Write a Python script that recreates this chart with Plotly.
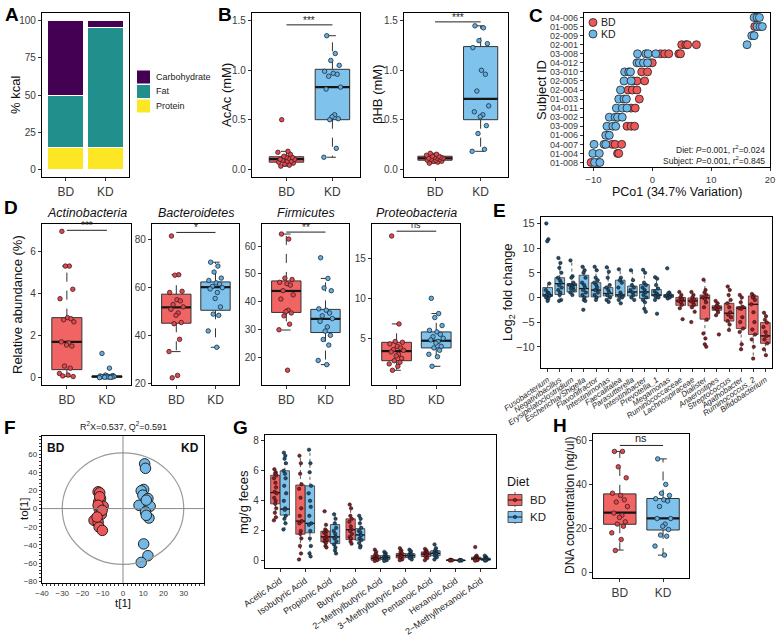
import plotly.graph_objects as go

W, H = 780, 639
FONT = "Liberation Sans, Arial, Helvetica, sans-serif"
TICKC = "#3a3a3a"
EDGE = "#333333"
BD_FILL = "#F06464"
KD_FILL = "#7FC2EC"
BD_PT = "#E5474F"
KD_PT = "#62AEE0"
BD_DARK = "#8B1E24"
KD_DARK = "#1F4E70"
PT_LINE = "#3a2020"

# ---------------- Panel A ----------------
A_DIETS = ["BD", "KD"]
A_PROTEIN = [15, 15]
A_FAT = [35, 80]
A_CARB = [50, 5]
A_NAMES = ["Carbohydrate", "Fat", "Protein"]
A_COLORS = ["#440154", "#21908C", "#FDE725"]

# ---------------- Panel B ----------------
B_ACAC_BD = [0.03, 0.04, 0.05, 0.06, 0.07, 0.08, 0.08, 0.09, 0.10, 0.10, 0.11, 0.12, 0.12, 0.13, 0.15, 0.17, 0.18, 0.50]
B_ACAC_KD = [1.35, 1.17, 1.10, 1.05, 0.99, 0.97, 0.96, 0.94, 0.83, 0.81, 0.55, 0.53, 0.51, 0.50, 0.21, 0.12]
B_ACAC_BD_STATS = [0.07, 0.10, 0.125, 0.03, 0.18]   # q1, median, q3, lower whisker, upper whisker
B_ACAC_KD_STATS = [0.50, 0.83, 1.01, 0.12, 1.35]
B_BHB_BD = [0.06, 0.07, 0.08, 0.08, 0.09, 0.09, 0.10, 0.10, 0.11, 0.11, 0.11, 0.12, 0.12, 0.13, 0.13, 0.14, 0.15, 0.16]
B_BHB_KD = [1.45, 1.43, 1.30, 1.27, 1.23, 1.00, 0.96, 0.79, 0.64, 0.58, 0.55, 0.53, 0.44, 0.36, 0.20, 0.18]
B_BHB_BD_STATS = [0.09, 0.11, 0.13, 0.06, 0.16]
B_BHB_KD_STATS = [0.50, 0.71, 1.24, 0.18, 1.45]
B_SIG = [1.46, 1.49]

# ---------------- Panel C ----------------
C_SUBJECTS = ["04-006", "01-005", "02-009", "02-001", "03-008", "04-012", "03-010", "02-005",
              "02-004", "01-003", "04-011", "03-002", "03-009", "01-006", "04-007", "01-004", "01-008"]
C_BD_SUBJ = ["04-006", "01-005", "02-009", "02-001", "02-001", "02-001", "02-001",
             "03-008", "03-008", "03-008", "03-008", "03-008", "04-012", "04-012", "03-010", "03-010",
             "02-005", "02-005", "02-005", "02-004", "02-004", "02-004", "01-003", "04-011", "04-011",
             "03-002", "03-009", "03-009", "03-009", "01-006", "04-007", "04-007", "04-007",
             "01-004", "01-004", "01-008", "01-008"]
C_BD_PCO1 = [17.6, 17.4, 17.1, 5.0, 5.7, 6.0, 7.5,
             1.4, 2.1, 2.8, 4.5, 4.8, -0.4, 0.0, -1.8, -0.8,
             -3.2, -2.6, -1.3, -4.1, -3.4, -2.6, -2.2, -3.6, -2.9,
             -5.8, -4.3, -3.6, -3.0, -7.5, -6.8, -6.3, -5.2,
             -5.9, -5.7, -10.4, -9.3]
C_KD_SUBJ = ["04-006", "04-006", "04-006", "01-005", "01-005", "01-005", "02-009", "02-009", "02-001",
             "03-008", "03-008", "03-008", "03-008", "04-012", "04-012", "04-012", "04-012",
             "03-010", "03-010", "03-010", "02-005", "02-005", "02-004", "01-003", "01-003", "01-003",
             "04-011", "04-011", "04-011", "03-002", "03-002", "03-002", "03-002", "03-009", "03-009", "03-009",
             "01-006", "01-006", "04-007", "04-007", "04-007", "01-004", "01-004", "01-008", "01-008"]
C_KD_PCO1 = [17.3, 17.8, 18.2, 17.8, 18.3, 18.7, 16.9, 17.3, 16.1,
             -2.5, -1.1, -0.7, 0.6, -2.6, -2.2, -1.5, -0.8,
             -4.7, -4.0, -3.7, -4.8, -3.6, -5.4, -5.7, -4.8, -4.4,
             -6.1, -5.1, -4.3, -7.3, -6.3, -5.9, -5.1, -7.7, -6.7, -6.2,
             -7.9, -7.3, -9.9, -8.2, -7.9, -10.1, -9.0, -9.8, -8.9]

# ---------------- Panel D ----------------
D_PHYLA = ["Actinobacteria", "Bacteroidetes", "Firmicutes", "Proteobacteria"]
D_BD = [
    [6.95, 5.3, 5.3, 4.2, 3.75, 2.85, 2.8, 2.75, 2.65, 1.7, 1.65, 1.55, 1.5, 0.55, 0.45, 0.2, 0.12, 0.08, 0.05],
    [81.5, 65.4, 65.2, 58.5, 58.0, 55.0, 54.5, 53.0, 52.0, 51.0, 49.5, 48.5, 45.5, 45.0, 38.5, 33.4, 23.5, 22.5],
    [64.3, 62.5, 48.5, 48.0, 47.0, 46.5, 46.0, 44.0, 42.5, 41.0, 37.0, 36.5, 36.0, 35.0, 32.0, 30.0, 15.5],
    [17.8, 6.8, 4.6, 4.5, 4.3, 4.0, 3.8, 3.6, 3.5, 3.3, 3.0, 2.8, 2.5, 2.2, 2.0, 1.8, 1.5, 1.0],
]
D_KD = [
    [1.15, 0.45, 0.12, 0.1, 0.08, 0.07, 0.06, 0.05, 0.05, 0.04, 0.03, 0.03, 0.02, 0.02, 0.01, 0.0],
    [70.6, 69.0, 66.5, 64.0, 63.0, 62.0, 61.5, 60.5, 60.0, 59.5, 58.0, 55.5, 52.0, 49.0, 48.5, 42.0, 35.2],
    [55.8, 48.4, 45.0, 44.0, 37.5, 37.0, 36.0, 35.0, 34.0, 33.0, 31.0, 29.5, 28.0, 26.5, 24.5, 19.0, 17.5],
    [10.0, 8.1, 7.6, 6.6, 6.0, 5.8, 5.5, 5.2, 5.0, 4.8, 4.6, 4.4, 4.0, 3.8, 3.5, 3.0, 2.7, 1.5],
]
D_BD_STATS = [[0.38, 1.7, 2.85, 0.05, 5.3], [45.2, 51.8, 57.3, 33.4, 65.4],
              [36.2, 43.9, 47.5, 29.9, 64.3], [2.2, 3.4, 4.5, 1.0, 6.8]]
D_KD_STATS = [[0.02, 0.05, 0.08, 0.0, 0.12], [50.6, 60.2, 62.4, 35.2, 70.6],
              [29.0, 33.9, 37.3, 17.5, 48.4], [3.8, 4.7, 5.8, 1.5, 8.1]]
D_SIG = [7.0, 83.0, 65.0, 18.4]
D_SIG_TEXT = ["***", "*", "**", "ns"]
D_TICKS = [[0, 2, 4, 6], [20, 40, 60, 80], [20, 30, 40, 50, 60], [5, 10, 15]]

# ---------------- Panel E ----------------
E_GENERA = ["Fusobacterium", "Negativibacillus", "Erysipelatoclostridium", "Escherichia/Shigella",
            "Flavonifractor", "Intestinimonas", "Faecalitalea", "Parasutterella", "Intestinibacter",
            "Prevotella_1", "Megamonas", "Ruminococcaceae", "Lachnospiraceae", "Dialister",
            "Anaerostipes", "Streptococcus", "Agathobacter", "Ruminococcus_2", "Bifidobacterium"]
E_GROUP = ["KD"] * 11 + ["BD"] * 8
E_Q1 = [0.2, 0.6, 1.1, 0.1, 0.1, 0.3, 0.1, 0.3, -0.2, 0.3, 0.0, -1.6, -1.7, -4.4, -2.6, -4.8, -6.3, -7.5, -9.3]
E_MED = [0.5, 2.8, 2.5, 1.8, 1.5, 0.8, 0.5, 1.1, 1.1, 0.5, 0.3, -0.7, -0.7, -0.1, -2.1, -3.2, -2.2, -1.4, -7.8]
E_Q3 = [2.0, 4.0, 2.8, 4.5, 3.0, 2.0, 3.5, 2.3, 2.6, 1.6, 0.6, 0.0, -0.1, 0.5, -1.7, -1.2, -1.9, 0.3, -5.1]
E_LO = [-0.7, -0.7, 0.5, -0.7, -0.7, -0.9, -1.2, -0.7, -2.9, -0.7, -0.2, -2.2, -2.9, -10.0, -3.6, -6.6, -10.5, -12.4, -11.7]
E_HI = [2.8, 8.0, 7.5, 6.3, 6.3, 6.2, 5.7, 5.5, 5.7, 4.2, 1.0, 1.1, 1.1, 3.7, -0.7, 2.5, 0.5, 0.8, -3.1]
E_PTS = [
    [15.0, 11.8, 11.4, 2.8, 1.5, 1.0, 0.8, 0.5, 0.3, 0.0, -0.3, -0.7],
    [8.0, 7.0, 6.0, 5.0, 4.0, 3.5, 3.0, 2.5, 2.0, 1.5, 1.0, 0.5, -0.5, -0.7],
    [7.5, 4.3, 4.0, 3.0, 2.5, 2.3, 2.0, 1.8, 1.5, 1.0, 0.5],
    [6.2, 5.5, 5.0, 4.0, 3.0, 2.5, 2.0, 1.5, 1.0, 0.5, 0.0, -0.5, -0.7, -2.5],
    [6.2, 5.5, 4.0, 3.5, 3.0, 2.5, 2.0, 1.5, 1.0, 0.5, 0.0, -0.5],
    [6.1, 5.2, 4.0, 2.5, 2.0, 1.5, 1.0, 0.5, 0.0, -0.5, -0.9],
    [5.7, 4.0, 3.5, 3.0, 2.0, 1.0, 0.5, 0.3, 0.0, -0.5, -1.2],
    [5.5, 3.5, 2.5, 2.0, 1.5, 1.0, 0.5, 0.0, -0.5],
    [5.6, 5.0, 3.0, 2.5, 2.0, 1.5, 1.0, 0.5, 0.0, -0.5, -1.0, -2.3, -2.9],
    [4.1, 3.8, 2.5, 1.8, 1.2, 0.8, 0.5, 0.2, 0.0, -0.5, -3.3],
    [5.9, 1.0, 0.8, 0.5, 0.3, 0.2, 0.0, -0.2],
    [1.1, 0.5, 0.0, -0.3, -0.7, -1.0, -1.5, -2.2, -4.4],
    [1.1, 0.5, 0.0, -0.5, -0.7, -1.0, -1.5, -2.0, -2.9, -5.0],
    [3.6, 1.5, 1.0, 0.5, 0.0, -0.3, -1.0, -2.0, -4.5, -7.3, -8.3, -9.5, -10.0],
    [-0.7, -1.2, -1.7, -2.0, -2.2, -2.5, -3.0, -3.6, -7.5],
    [2.2, 1.5, 0.5, -0.5, -1.2, -2.0, -3.0, -3.5, -4.0, -4.8, -5.5, -6.6],
    [0.5, 0.0, -1.0, -1.9, -2.2, -2.3, -4.0, -5.0, -6.3, -7.0, -9.5, -10.5],
    [0.7, 0.3, 0.0, -0.5, -1.4, -3.0, -5.0, -6.5, -7.5, -8.5, -10.0, -12.4],
    [-3.1, -3.8, -4.5, -5.1, -6.0, -7.0, -7.8, -8.5, -9.3, -10.5, -11.7],
]

# ---------------- Panel F ----------------
F_BD_T1 = [-12.3, -11.5, -11.1, -12.0, -9.8, -11.8, -10.7, -14.3, -12.3, -11.8, -10.2, -11.5, -12.3, -10.3, -12.8]
F_BD_TO1 = [18.5, 17.4, 11.1, 7.4, 2.6, 0.0, -6.3, -13.0, -14.8, -20.4, -24.0, 13.0, 3.7, -1.9, -9.3]
F_KD_T1 = [10.7, 11.1, 10.2, 9.0, 9.8, 12.3, 13.4, 7.9, 11.1, 12.8, 11.5, 10.2, 12.3, 9.0, 11.5]
F_KD_TO1 = [49.3, 44.4, 21.1, 19.6, 14.8, 11.1, 2.6, 3.7, -3.7, -10.4, -7.4, -38.9, -51.9, -59.3, 9.3]
F_ELLIPSE_RX = 30.0
F_ELLIPSE_RY = 61.5

# ---------------- Panel G ----------------
G_ACIDS = ["Acetic Acid", "Isobutyric Acid", "Propionic Acid", "Butyric Acid", "2-Methylbutyric Acid",
           "3-Methylbutyric Acid", "Pentanoic Acid", "Hexanoic Acid", "2-Methylhexanoic Acid"]
G_BD_Q1 = [3.8, 1.78, 1.27, 1.42, 0.05, 0.2, 0.3, 0.03, 0.08]
G_BD_MED = [4.55, 2.65, 1.6, 2.08, 0.18, 0.35, 0.45, 0.05, 0.15]
G_BD_Q3 = [5.7, 5.05, 1.98, 2.8, 0.35, 0.5, 0.6, 0.07, 0.25]
G_BD_LO = [2.7, 0.1, 0.9, 1.15, 0.0, 0.05, 0.05, 0.02, 0.02]
G_BD_HI = [6.1, 6.98, 2.42, 3.75, 0.75, 0.85, 0.8, 0.09, 0.35]
G_KD_Q1 = [3.05, 1.87, 1.15, 1.38, 0.1, 0.22, 0.35, 0.02, 0.05]
G_KD_MED = [3.45, 2.5, 1.6, 1.73, 0.22, 0.35, 0.5, 0.04, 0.1]
G_KD_Q3 = [6.0, 5.0, 2.42, 2.15, 0.35, 0.48, 0.68, 0.05, 0.18]
G_KD_LO = [2.05, 0.3, 0.5, 0.93, 0.0, 0.1, 0.1, 0.01, 0.01]
G_KD_HI = [7.2, 7.42, 3.2, 3.0, 0.6, 0.75, 1.1, 0.06, 0.35]
G_BD_PTS = [
    [6.1, 5.9, 5.8, 5.7, 5.5, 5.2, 4.9, 4.6, 4.5, 4.2, 4.0, 3.8, 3.5, 3.2, 2.9, 2.7],
    [7.0, 6.5, 5.8, 5.1, 4.8, 4.2, 3.5, 3.0, 2.65, 2.5, 2.0, 1.8, 1.5, 1.0, 0.5, 0.1],
    [3.3, 2.4, 2.1, 2.0, 1.9, 1.8, 1.6, 1.5, 1.4, 1.3, 1.2, 1.0, 0.9],
    [3.75, 3.5, 3.0, 2.8, 2.6, 2.3, 2.1, 2.0, 1.8, 1.6, 1.5, 1.3, 1.15],
    [0.75, 0.6, 0.45, 0.35, 0.3, 0.2, 0.15, 0.1, 0.05, 0.0],
    [0.85, 0.7, 0.6, 0.5, 0.4, 0.35, 0.3, 0.2, 0.1, 0.05],
    [0.8, 0.7, 0.6, 0.55, 0.5, 0.45, 0.4, 0.3, 0.2, 0.05],
    [0.08, 0.06, 0.05, 0.04, 0.03],
    [0.92, 0.35, 0.28, 0.22, 0.18, 0.15, 0.12, 0.08, 0.05, 0.02],
]
G_KD_PTS = [
    [7.2, 7.0, 6.8, 6.5, 6.0, 5.8, 5.5, 5.0, 4.5, 4.0, 3.5, 3.4, 3.0, 2.8, 2.5, 2.1],
    [7.4, 6.5, 5.9, 5.0, 4.5, 4.0, 3.6, 3.0, 2.5, 2.4, 2.0, 1.5, 1.0, 0.5, 0.3],
    [3.1, 2.8, 2.5, 2.2, 2.0, 1.8, 1.6, 1.5, 1.3, 1.1, 0.9, 0.7, 0.5],
    [3.0, 2.8, 2.5, 2.2, 2.0, 1.9, 1.7, 1.5, 1.4, 1.2, 1.0, 0.9],
    [0.6, 0.5, 0.4, 0.3, 0.25, 0.2, 0.15, 0.1, 0.05, 0.0],
    [0.75, 0.65, 0.5, 0.45, 0.38, 0.3, 0.25, 0.2, 0.1],
    [1.1, 0.85, 0.7, 0.6, 0.55, 0.5, 0.45, 0.35, 0.25, 0.1],
    [0.06, 0.05, 0.04, 0.03, 0.02],
    [0.35, 0.25, 0.2, 0.15, 0.1, 0.08, 0.05, 0.02],
]

# ---------------- Panel H ----------------
H_BD = [55, 55, 48, 43, 36, 35, 33, 32, 30, 27, 26, 25, 23, 22, 21, 18, 15, 10]
H_KD = [51.6, 40, 36, 35, 33.5, 33, 32.5, 30, 24.5, 24.5, 22, 21, 19.5, 17, 16.5, 12, 7.9]
H_BD_STATS = [21.9, 27.2, 35.7, 10.2, 55.0]
H_KD_STATS = [19.3, 24.6, 33.6, 7.9, 51.6]
H_SIG = 57.7

# jitter offsets (fraction of half-spread), a fixed style pattern
JIT = [-0.62, 0.31, -0.18, 0.74, -0.85, 0.09, 0.52, -0.41, 0.88, -0.69, 0.24, -0.04,
       0.63, -0.29, 0.42, -0.93, 0.16, -0.52, 0.79, -0.12]

fig = go.Figure()


def PX(x):
    return x / W


def PY(y):
    return (H - y) / H


def axref(n):
    return ("x" if n == 1 else f"x{n}"), ("y" if n == 1 else f"y{n}")


def axkeys(n):
    return ("xaxis" if n == 1 else f"xaxis{n}"), ("yaxis" if n == 1 else f"yaxis{n}")


def mk(domain, anchor, tsize=10, **kw):
    d = dict(domain=domain, anchor=anchor, showline=True, mirror=True, linecolor="black",
             linewidth=1.3, ticks="outside", ticklen=3, tickwidth=1, tickcolor=EDGE,
             showgrid=False, zeroline=False, automargin=False,
             tickfont=dict(family=FONT, size=tsize, color=TICKC))
    d.update(kw)
    return d


def setax(n, xpx, ypx, xkw, ykw):
    xr, yr = axref(n)
    xk, yk = axkeys(n)
    xd = [xpx[0] / W, xpx[1] / W]
    yd = [(H - ypx[1]) / H, (H - ypx[0]) / H]
    fig.update_layout({xk: mk(xd, yr, **xkw), yk: mk(yd, xr, **ykw)})


def text(xp, yp, s, size=12, angle=0, xanchor="center", yanchor="middle", color="#111", **kw):
    fig.add_annotation(xref="paper", yref="paper", x=PX(xp), y=PY(yp), text=s, showarrow=False,
                       textangle=angle, xanchor=xanchor, yanchor=yanchor,
                       font=dict(family=FONT, size=size, color=color), **kw)


def add_box(n, pos, stats, fill, w, cap=0.0, lw=1.0, mw=2.2, dash="dash"):
    xr, yr = axref(n)
    q1, med, q3, lo, hi = stats
    fig.add_trace(go.Scatter(x=[pos, pos, None, pos, pos], y=[q3, hi, None, q1, lo], mode="lines",
                             line=dict(color=EDGE, width=lw, dash=dash), xaxis=xr, yaxis=yr,
                             hoverinfo="skip"))
    if cap:
        fig.add_trace(go.Scatter(x=[pos - cap, pos + cap, None, pos - cap, pos + cap],
                                 y=[hi, hi, None, lo, lo], mode="lines",
                                 line=dict(color=EDGE, width=lw, dash="dash"), xaxis=xr, yaxis=yr,
                                 hoverinfo="skip"))
    fig.add_trace(go.Box(x=[pos], q1=[q1], median=[med], q3=[q3], lowerfence=[q1], upperfence=[q3],
                         orientation="v", width=w, fillcolor=fill, line=dict(color=EDGE, width=lw),
                         whiskerwidth=0, boxpoints=False, xaxis=xr, yaxis=yr, hoverinfo="skip"))
    fig.add_trace(go.Scatter(x=[pos - w / 2, pos + w / 2], y=[med, med], mode="lines",
                             line=dict(color="#151515", width=mw), xaxis=xr, yaxis=yr,
                             hoverinfo="skip"))


def add_pts(n, pos, vals, color, line, size=4.5, spread=0.2, lw=0.8):
    xr, yr = axref(n)
    xs = [pos + JIT[i % len(JIT)] * spread for i in range(len(vals))]
    fig.add_trace(go.Scatter(x=xs, y=vals, mode="markers",
                             marker=dict(size=size, color=color, line=dict(color=line, width=lw)),
                             xaxis=xr, yaxis=yr, hoverinfo="skip"))


def add_sig(n, y, s, tsize=10):
    xr, yr = axref(n)
    fig.add_trace(go.Scatter(x=[0, 1], y=[y, y], mode="lines", line=dict(color="#222", width=1),
                             xaxis=xr, yaxis=yr, hoverinfo="skip"))
    fig.add_annotation(x=0.5, y=y, xref=xr, yref=yr, text=s, showarrow=False, xanchor="center",
                       yanchor="bottom", yshift=-3 if "*" in s else -1,
                       font=dict(family=FONT, size=tsize, color="#222"))


def two_group(n, bd_pts, kd_pts, bd_stats, kd_stats):
    add_box(n, 0, bd_stats, BD_FILL, 0.75, cap=0.12)
    add_box(n, 1, kd_stats, KD_FILL, 0.75, cap=0.12)
    add_pts(n, 0, bd_pts, BD_PT, PT_LINE, spread=0.2)
    add_pts(n, 1, kd_pts, KD_PT, "#1d2c3a", spread=0.2)


BD_KD_X = dict(tickvals=[0, 1], ticktext=["BD", "KD"], range=[-0.62, 1.6], tsize=12)

# ---------------- A ----------------
for vals, nm, col in [(A_PROTEIN, "Protein", A_COLORS[2]), (A_FAT, "Fat", A_COLORS[1]),
                      (A_CARB, "Carbohydrate", A_COLORS[0])]:
    fig.add_trace(go.Bar(x=A_DIETS, y=vals, name=nm, width=0.9,
                         marker=dict(color=col, line=dict(color="white", width=1))))
setax(1, (42, 129), (13, 177),
      dict(type="category", range=[-0.6, 1.6], tsize=12),
      dict(range=[-5, 105], tickvals=[0, 25, 50, 75, 100]))
text(15, 95, "% kcal", size=13, angle=-90)
for i, (nm, col) in enumerate(zip(A_NAMES, A_COLORS)):
    yc = 77 + i * 14.5
    fig.add_shape(type="rect", xref="paper", yref="paper", x0=PX(137), x1=PX(150),
                  y0=PY(yc + 6.5), y1=PY(yc - 6.5), fillcolor=col, line=dict(width=0))
    text(154, yc, nm, size=9, xanchor="left", color="#222")

# ---------------- B ----------------
two_group(2, B_ACAC_BD, B_ACAC_KD, B_ACAC_BD_STATS, B_ACAC_KD_STATS)
add_sig(2, B_SIG[0], "***")
setax(2, (252, 360), (13, 177), dict(BD_KD_X, range=[-0.75, 1.6]),
      dict(range=[-0.08, 1.58], tickvals=[0, 0.5, 1.0, 1.5], tickformat=".1f"))
text(226, 95, "AcAc (mM)", size=13, angle=-90)
two_group(3, B_BHB_BD, B_BHB_KD, B_BHB_BD_STATS, B_BHB_KD_STATS)
add_sig(3, B_SIG[1], "***")
setax(3, (404, 508), (13, 177), dict(BD_KD_X, range=[-0.68, 1.6]),
      dict(range=[-0.08, 1.58], tickvals=[0, 0.5, 1.0, 1.5], tickformat=".1f"))
text(377, 95, "βHB (mM)", size=13, angle=-90)

# ---------------- C ----------------
fig.add_trace(go.Scatter(x=C_BD_PCO1, y=C_BD_SUBJ, mode="markers", name="BD",
                         marker=dict(size=8, color="#EE5757", line=dict(color="#222", width=0.8)),
                         xaxis="x4", yaxis="y4"))
fig.add_trace(go.Scatter(x=C_KD_PCO1, y=C_KD_SUBJ, mode="markers", name="KD",
                         marker=dict(size=8, color="#6CB6E8", line=dict(color="#222", width=0.8)),
                         xaxis="x4", yaxis="y4"))
setax(4, (584, 770), (13, 167),
      dict(range=[-11.6, 20.0], tickvals=[-10, 0, 10, 20], ticktext=["\u221210", "0", "10", "20"],
           tsize=9.5),
      dict(type="category", categoryorder="array", categoryarray=C_SUBJECTS[::-1],
           tickmode="array", tickvals=C_SUBJECTS, ticktext=C_SUBJECTS,
           range=[-0.5, 16.5], tsize=9))
text(541, 90, "Subject ID", size=13, angle=-90)
text(677, 192, "PCo1 (34.7% Variation)", size=12.5)
text(767, 150, "Diet: <i>P</i>=0.001, r<sup>2</sup>=0.024", size=8.5, xanchor="right", color="#222")
text(767, 161, "Subject: <i>P</i>=0.001, r<sup>2</sup>=0.845", size=8.5, xanchor="right", color="#222")
for i, (nm, col) in enumerate([("BD", "#EE5757"), ("KD", "#6CB6E8")]):
    yc = 22.5 + i * 11.5
    fig.add_shape(type="circle", xref="paper", yref="paper", x0=PX(589), x1=PX(597),
                  y0=PY(yc + 4), y1=PY(yc - 4), fillcolor=col, line=dict(color="#222", width=0.8))
    text(599, yc, nm, size=10.5, xanchor="left", color="#222")

# ---------------- D ----------------
D_XPX = [(42, 131), (152, 239), (262, 349), (372, 460)]
D_RANGES = [[-0.35, 7.3], [19.5, 86.5], [10.2, 67.9], [-0.84, 19.3]]
for k in range(4):
    n = 5 + k
    two_group(n, D_BD[k], D_KD[k], D_BD_STATS[k], D_KD_STATS[k])
    add_sig(n, D_SIG[k], D_SIG_TEXT[k], tsize=10 if D_SIG_TEXT[k] != "ns" else 9)
    setax(n, D_XPX[k], (224, 385), dict(BD_KD_X), dict(range=D_RANGES[k], tickvals=D_TICKS[k]))
    text((D_XPX[k][0] + D_XPX[k][1]) / 2, 213, f"<i>{D_PHYLA[k]}</i>", size=12.5)
text(17, 305, "Relative abundance (%)", size=13, angle=-90)

# ---------------- E ----------------
for i in range(len(E_GENERA)):
    kd = E_GROUP[i] == "KD"
    add_box(9, i, [E_Q1[i], E_MED[i], E_Q3[i], E_LO[i], E_HI[i]], KD_FILL if kd else BD_FILL, 0.8,
            lw=0.8, mw=1.2, dash="dot")
for i in range(len(E_GENERA)):
    kd = E_GROUP[i] == "KD"
    add_pts(9, i, E_PTS[i], KD_DARK if kd else BD_DARK, "#111", size=3.5, spread=0.18, lw=0.5)
setax(9, (541, 772), (217, 368),
      dict(tickvals=list(range(len(E_GENERA))), ticktext=[f"<i>{g}</i>" for g in E_GENERA],
           tickangle=-35, range=[-0.55, 18.55], tickfont=dict(family=FONT, size=8, color="#222")),
      dict(range=[-14.3, 16.3], tickvals=[-10, -5, 0, 5, 10, 15],
           ticktext=["\u221210", "\u22125", "0", "5", "10", "15"], tsize=11))
text(508, 292, "Log<sub>2</sub> fold change", size=13, angle=-90)

# ---------------- F ----------------
fig.add_shape(type="circle", xref="x10", yref="y10", x0=-F_ELLIPSE_RX, x1=F_ELLIPSE_RX,
              y0=-F_ELLIPSE_RY, y1=F_ELLIPSE_RY, line=dict(color="#9a9a9a", width=1.2))
fig.add_shape(type="line", xref="x10", yref="y10 domain", x0=0, x1=0, y0=0, y1=1,
              line=dict(color="#8a8a8a", width=1))
fig.add_shape(type="line", xref="x10 domain", yref="y10", x0=0, x1=1, y0=0, y1=0,
              line=dict(color="#8a8a8a", width=1))
fig.add_trace(go.Scatter(x=F_BD_T1, y=F_BD_TO1, mode="markers", xaxis="x10", yaxis="y10",
                         marker=dict(size=10.5, color="#EE5757", line=dict(color="#222", width=1))))
fig.add_trace(go.Scatter(x=F_KD_T1, y=F_KD_TO1, mode="markers", xaxis="x10", yaxis="y10",
                         marker=dict(size=10.5, color="#72B9E8", line=dict(color="#222", width=1))))
setax(10, (42, 204), (436, 583),
      dict(range=[-40, 40], tickvals=[-40, -30, -20, -10, 0, 10, 20, 30], tsize=8, ticklen=2,
           minor=dict(ticks="outside", ticklen=1.5, dtick=2)),
      dict(range=[-82, 80], tickvals=[-80, -60, -40, -20, 0, 20, 40, 60], tsize=8, ticklen=2,
           minor=dict(ticks="outside", ticklen=1.5, dtick=4)))
fig.add_annotation(xref="x10", yref="y10", x=-33, y=67, text="<b>BD</b>", showarrow=False,
                   font=dict(family=FONT, size=12, color="#111"))
fig.add_annotation(xref="x10", yref="y10", x=33, y=67, text="<b>KD</b>", showarrow=False,
                   font=dict(family=FONT, size=12, color="#111"))
text(123, 426, "R<sup>2</sup>X=0.537, Q<sup>2</sup>=0.591", size=9, color="#222")
text(123, 603, "t[1]", size=11.5)
text(24, 509, "to[1]", size=11.5, angle=-90)

# ---------------- G ----------------
for i in range(len(G_ACIDS)):
    add_box(11, i - 0.19, [G_BD_Q1[i], G_BD_MED[i], G_BD_Q3[i], G_BD_LO[i], G_BD_HI[i]], BD_FILL, 0.37,
            lw=0.8, mw=1.2, dash="dot")
    add_box(11, i + 0.19, [G_KD_Q1[i], G_KD_MED[i], G_KD_Q3[i], G_KD_LO[i], G_KD_HI[i]], KD_FILL, 0.37,
            lw=0.8, mw=1.2, dash="dot")
for i in range(len(G_ACIDS)):
    add_pts(11, i - 0.19, G_BD_PTS[i], BD_DARK, "#111", size=3.5, spread=0.06, lw=0.5)
    add_pts(11, i + 0.19, G_KD_PTS[i], KD_DARK, "#111", size=3.5, spread=0.06, lw=0.5)
setax(11, (265, 496), (435, 568),
      dict(tickvals=list(range(len(G_ACIDS))), ticktext=[a.replace("-", "\u2212") for a in G_ACIDS],
           tickangle=-35, range=[-0.6, 8.6], tickfont=dict(family=FONT, size=9, color="#222")),
      dict(range=[-0.47, 8.38], tickvals=[0, 2, 4, 6, 8], tsize=10))
text(243, 502, "mg/g feces", size=13, angle=-90)
text(505, 482, "Diet", size=12.5, xanchor="left")
for i, (nm, col, dk) in enumerate([("BD", BD_FILL, BD_DARK), ("KD", KD_FILL, KD_DARK)]):
    yc = 500 + i * 17
    fig.add_shape(type="line", xref="paper", yref="paper", x0=PX(515), x1=PX(515),
                  y0=PY(yc - 8), y1=PY(yc + 8), line=dict(color=EDGE, width=0.8, dash="dot"))
    fig.add_shape(type="rect", xref="paper", yref="paper", x0=PX(508), x1=PX(522),
                  y0=PY(yc + 5.5), y1=PY(yc - 5.5), fillcolor=col, line=dict(color=EDGE, width=0.8))
    fig.add_shape(type="line", xref="paper", yref="paper", x0=PX(508), x1=PX(522),
                  y0=PY(yc), y1=PY(yc), line=dict(color="#151515", width=1))
    fig.add_shape(type="circle", xref="paper", yref="paper", x0=PX(513.3), x1=PX(516.7),
                  y0=PY(yc + 1.7), y1=PY(yc - 1.7), fillcolor=dk, line=dict(color="#111", width=0.5))
    text(528, yc, nm, size=11.5, xanchor="left", color="#222")

# ---------------- H ----------------
two_group(12, H_BD, H_KD, H_BD_STATS, H_KD_STATS)
add_sig(12, H_SIG, "ns", tsize=11)
setax(12, (593, 689), (434, 578), dict(BD_KD_X),
      dict(range=[-2.5, 62.9], tickvals=[0, 20, 40, 60]))
text(570, 506, "DNA concentration (ng/ul)", size=12, angle=-90)

# ---------------- panel letters ----------------
for letter, xp, yp in [("A", 3, 2), ("B", 216, 2), ("C", 527, 3), ("D", 2, 195), ("E", 491, 198),
                       ("F", 2, 415), ("G", 231, 415), ("H", 551, 413)]:
    text(xp, yp, f"<b>{letter}</b>", size=19, xanchor="left", yanchor="top", color="#000")

fig.update_layout(
    width=W, height=H, margin=dict(l=0, r=0, t=0, b=0),
    paper_bgcolor="white", plot_bgcolor="white",
    barmode="stack", boxmode="overlay", showlegend=False,
    font=dict(family=FONT, color="#222"),
)

fig.write_html("out.html", config={"displayModeBar": False},
               post_script="document.body.style.margin='0px';")
